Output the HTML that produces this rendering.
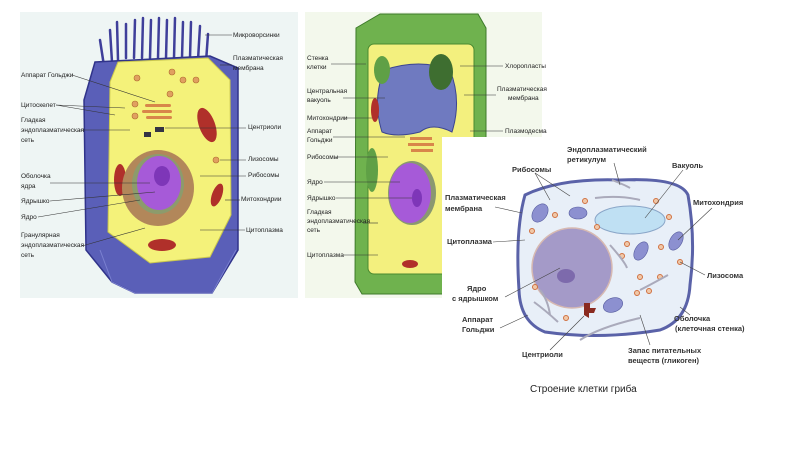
<!DOCTYPE html>
<html><head><meta charset="utf-8"><style>
html,body{margin:0;padding:0;background:#fff;}
svg{display:block}
text{font-family:"Liberation Sans","DejaVu Sans",sans-serif;}
</style></head><body>
<svg width="800" height="449" viewBox="0 0 800 449" xmlns="http://www.w3.org/2000/svg">
<rect width="800" height="449" fill="#fff"/>
<!-- Panel 1 animal cell -->
<rect x="20" y="12" width="278" height="286" fill="#eef5f4"/>
<g stroke="#3f3f9a" stroke-width="2.5" stroke-linecap="round" fill="none">
<path d="M112 62 L110 30 M118 60 L117 22 M126 58 L126 24 M134 58 L135 20 M142 58 L143 18 M150 58 L151 20 M158 58 L159 18 M166 58 L167 20 M174 58 L175 18 M182 58 L183 22 M190 58 L191 22 M198 60 L200 26 M206 62 L208 34 M104 66 L100 40"/>
</g>
<path d="M95 62 L210 56 L238 68 L238 250 L212 293 L135 293 L112 282 L86 250 L84 100 Z" fill="#5a5fb8" stroke="#30338a" stroke-width="1.5"/>
<path d="M118 62 L208 58 L230 80 L231 215 L210 257 L150 263 L108 232 L110 82 Z" fill="#f4f27a" stroke="#c9c64e"/>
<path d="M100 250 L112 282 L135 293 L212 293 L236 250" fill="none" stroke="#7a80d0" stroke-width="1"/>
<g fill="#e0a060" stroke="#b06a30" stroke-width="0.6">
<circle cx="137" cy="78" r="3"/><circle cx="172" cy="72" r="3"/><circle cx="183" cy="80" r="3"/><circle cx="196" cy="80" r="3"/><circle cx="135" cy="104" r="3"/><circle cx="135" cy="116" r="3"/><circle cx="170" cy="94" r="3"/><circle cx="216" cy="160" r="3"/>
</g>
<g fill="#d8864a"><rect x="145" y="104" width="26" height="3" rx="1.5"/><rect x="142" y="110" width="30" height="3" rx="1.5"/><rect x="146" y="116" width="26" height="3" rx="1.5"/></g>
<ellipse cx="207" cy="125" rx="8" ry="18" fill="#b0302a" transform="rotate(-20 207 125)"/>
<ellipse cx="120" cy="180" rx="6" ry="16" fill="#b0302a"/>
<ellipse cx="217" cy="195" rx="5" ry="12" fill="#b0302a" transform="rotate(20 217 195)"/>
<ellipse cx="162" cy="245" rx="14" ry="6" fill="#b0302a"/>
<ellipse cx="158" cy="188" rx="36" ry="38" fill="#b2875a"/>
<ellipse cx="158" cy="184" rx="26" ry="30" fill="#8c9b6c"/>
<ellipse cx="159" cy="183" rx="22" ry="27" fill="#a65ad8"/>
<ellipse cx="162" cy="176" rx="8" ry="10" fill="#7e36b8"/>
<rect x="144" y="132" width="7" height="5" fill="#334" /><rect x="155" y="127" width="9" height="5" fill="#334"/>
<g font-size="6.5" fill="#222">
<text x="233" y="37">Микроворсинки</text>
<text x="233" y="60">Плазматическая</text><text x="233" y="70">мембрана</text>
<text x="21" y="77">Аппарат Гольджи</text>
<text x="21" y="107">Цитоскелет</text>
<text x="21" y="122">Гладкая</text><text x="21" y="132">эндоплазматическая</text><text x="21" y="142">сеть</text>
<text x="248" y="129">Центриоли</text>
<text x="248" y="161">Лизосомы</text>
<text x="248" y="177">Рибосомы</text>
<text x="21" y="178">Оболочка</text><text x="21" y="188">ядра</text>
<text x="21" y="203">Ядрышко</text>
<text x="21" y="219">Ядро</text>
<text x="241" y="201">Митохондрии</text>
<text x="246" y="232">Цитоплазма</text>
<text x="21" y="237">Гранулярная</text><text x="21" y="247">эндоплазматическая</text><text x="21" y="257">сеть</text>
</g>
<g stroke="#333" stroke-width="0.6">
<line x1="205" y1="35" x2="232" y2="35"/><line x1="232" y1="65" x2="220" y2="65"/><line x1="72" y1="75" x2="155" y2="102"/>
<line x1="56" y1="105" x2="125" y2="108"/><line x1="56" y1="105" x2="115" y2="115"/><line x1="80" y1="130" x2="130" y2="130"/>
<line x1="165" y1="128" x2="246" y2="128"/><line x1="220" y1="160" x2="246" y2="160"/><line x1="200" y1="176" x2="246" y2="176"/>
<line x1="50" y1="183" x2="150" y2="183"/><line x1="50" y1="201" x2="155" y2="192"/><line x1="38" y1="217" x2="140" y2="200"/>
<line x1="225" y1="200" x2="240" y2="200"/><line x1="200" y1="230" x2="245" y2="230"/><line x1="82" y1="246" x2="145" y2="228"/>
</g>
<!-- Panel 2 plant cell -->
<rect x="305" y="12" width="237" height="286" fill="#f3f8ec"/>
<path d="M356 28 L380 14 L478 14 L486 28 L486 282 L478 294 L362 294 L355 282 Z" fill="#6fb24e" stroke="#3d7a2a"/>
<rect x="368" y="44" width="106" height="230" rx="6" fill="#f3f07e" stroke="#4a8a30"/>
<path d="M384 70 Q420 58 450 70 Q462 100 452 132 Q432 122 420 132 Q396 138 382 132 Q372 100 384 70 Z" fill="#6f7ac0" stroke="#3c4590"/>
<ellipse cx="375" cy="110" rx="4" ry="12" fill="#b0302a"/>
<ellipse cx="441" cy="72" rx="12" ry="18" fill="#3e6e30"/>
<ellipse cx="382" cy="70" rx="8" ry="14" fill="#5fa046"/>
<ellipse cx="372" cy="170" rx="6" ry="22" fill="#5fa046"/>
<ellipse cx="412" cy="193" rx="24" ry="32" fill="#8a9870"/>
<ellipse cx="410" cy="193" rx="21" ry="30" fill="#a65ad8"/>
<ellipse cx="417" cy="198" rx="5" ry="9" fill="#7e36b8"/>
<g fill="#d8864a"><rect x="410" y="137" width="22" height="3"/><rect x="408" y="143" width="26" height="3"/><rect x="411" y="149" width="22" height="3"/></g>
<ellipse cx="410" cy="264" rx="8" ry="4" fill="#b0302a"/>
<g font-size="6.5" fill="#222">
<text x="307" y="60">Стенка</text><text x="307" y="69">клетки</text>
<text x="307" y="93">Центральная</text><text x="307" y="102">вакуоль</text>
<text x="307" y="120">Митохондрии</text>
<text x="307" y="133">Аппарат</text><text x="307" y="142">Гольджи</text>
<text x="307" y="159">Рибосомы</text>
<text x="307" y="184">Ядро</text><text x="307" y="200">Ядрышко</text>
<text x="307" y="214">Гладкая</text><text x="307" y="223">эндоплазматическая</text><text x="307" y="232">сеть</text>
<text x="307" y="257">Цитоплазма</text>
<text x="505" y="68">Хлоропласты</text>
<text x="497" y="91">Плазматическая</text><text x="508" y="100">мембрана</text>
<text x="505" y="133">Плазмодесма</text>
</g>
<g stroke="#333" stroke-width="0.6">
<line x1="331" y1="64" x2="366" y2="64"/><line x1="343" y1="98" x2="385" y2="98"/><line x1="343" y1="118" x2="372" y2="118"/><line x1="333" y1="137" x2="405" y2="137"/>
<line x1="335" y1="157" x2="388" y2="157"/><line x1="324" y1="182" x2="400" y2="182"/><line x1="336" y1="198" x2="412" y2="198"/>
<line x1="363" y1="223" x2="378" y2="223"/><line x1="343" y1="255" x2="378" y2="255"/>
<line x1="460" y1="66" x2="503" y2="66"/><line x1="464" y1="95" x2="496" y2="95"/><line x1="470" y1="131" x2="503" y2="131"/>
</g>
<!-- Panel 3 fungus cell -->
<rect x="442" y="137" width="358" height="312" fill="#fff"/>
<path d="M525 195 Q560 178 620 180 Q680 177 688 195 Q696 240 690 285 Q688 320 660 330 Q600 340 545 332 Q520 322 519 290 Q515 230 525 195 Z" fill="#e8eff8" stroke="#5a62a8" stroke-width="3"/>
<ellipse cx="630" cy="220" rx="35" ry="14" fill="#bfe0f3" stroke="#8aa6c8"/>
<circle cx="572" cy="268" r="40" fill="#a49ac8" stroke="#d7b9b2" stroke-width="1.5"/>
<ellipse cx="566" cy="276" rx="9" ry="7" fill="#7d6aac"/>
<g fill="#8c90d0" stroke="#555b9e" stroke-width="0.6">
<ellipse cx="540" cy="213" rx="7" ry="10" transform="rotate(35 540 213)"/><ellipse cx="578" cy="213" rx="9" ry="6"/>
<ellipse cx="641" cy="251" rx="6" ry="10" transform="rotate(30 641 251)"/><ellipse cx="676" cy="241" rx="6" ry="10" transform="rotate(30 676 241)"/>
<ellipse cx="613" cy="305" rx="10" ry="7" transform="rotate(-20 613 305)"/>
</g>
<g fill="#f0c8a8" stroke="#d07040" stroke-width="1">
<circle cx="585" cy="201" r="2.5"/><circle cx="555" cy="215" r="2.5"/><circle cx="532" cy="231" r="2.5"/><circle cx="597" cy="227" r="2.5"/><circle cx="656" cy="201" r="2.5"/><circle cx="669" cy="217" r="2.5"/><circle cx="627" cy="244" r="2.5"/><circle cx="622" cy="256" r="2.5"/><circle cx="661" cy="247" r="2.5"/><circle cx="680" cy="262" r="2.5"/><circle cx="640" cy="277" r="2.5"/><circle cx="660" cy="277" r="2.5"/><circle cx="649" cy="291" r="2.5"/><circle cx="637" cy="293" r="2.5"/><circle cx="535" cy="287" r="2.5"/><circle cx="566" cy="318" r="2.5"/>
</g>
<g stroke="#aab" stroke-width="2" fill="none">
<path d="M595 198 Q620 195 640 200"/><path d="M612 180 Q625 185 630 188"/><path d="M610 245 Q625 262 627 268"/><path d="M668 275 Q650 285 640 290"/>
<path d="M580 340 Q600 327 640 318"/><path d="M540 290 Q548 300 550 315"/><path d="M534 302 Q545 310 558 322"/>
</g>
<path d="M584 303 L590 303 L590 308 L596 308 L594 313 L589 313 L589 318 L584 315 Z" fill="#8a2a20"/>
<g font-size="7.5" font-weight="bold" fill="#333">
<text x="567" y="152">Эндоплазматический</text><text x="567" y="162">ретикулум</text>
<text x="512" y="172">Рибосомы</text><text x="672" y="168">Вакуоль</text>
<text x="445" y="200">Плазматическая</text><text x="445" y="211">мембрана</text>
<text x="693" y="205">Митохондрия</text>
<text x="447" y="244">Цитоплазма</text>
<text x="707" y="278">Лизосома</text>
<text x="467" y="291">Ядро</text><text x="452" y="301">с ядрышком</text>
<text x="462" y="322">Аппарат</text><text x="462" y="332">Гольджи</text>
<text x="674" y="321">Оболочка</text><text x="675" y="331">(клеточная стенка)</text>
<text x="522" y="357">Центриоли</text>
<text x="628" y="353">Запас питательных</text><text x="628" y="363">веществ (гликоген)</text>
</g>
<text x="530" y="392" font-size="10" fill="#222">Строение клетки гриба</text>
<g stroke="#444" stroke-width="0.6">
<line x1="535" y1="173" x2="550" y2="200"/><line x1="535" y1="173" x2="570" y2="196"/><line x1="614" y1="163" x2="620" y2="185"/>
<line x1="683" y1="170" x2="645" y2="218"/><line x1="495" y1="207" x2="522" y2="213"/><line x1="712" y1="208" x2="678" y2="240"/>
<line x1="493" y1="242" x2="525" y2="240"/><line x1="705" y1="275" x2="680" y2="262"/><line x1="505" y1="297" x2="560" y2="268"/>
<line x1="500" y1="328" x2="528" y2="315"/><line x1="690" y1="315" x2="680" y2="307"/><line x1="550" y1="350" x2="584" y2="316"/><line x1="650" y1="345" x2="640" y2="315"/>
</g>
</svg>
</body></html>
